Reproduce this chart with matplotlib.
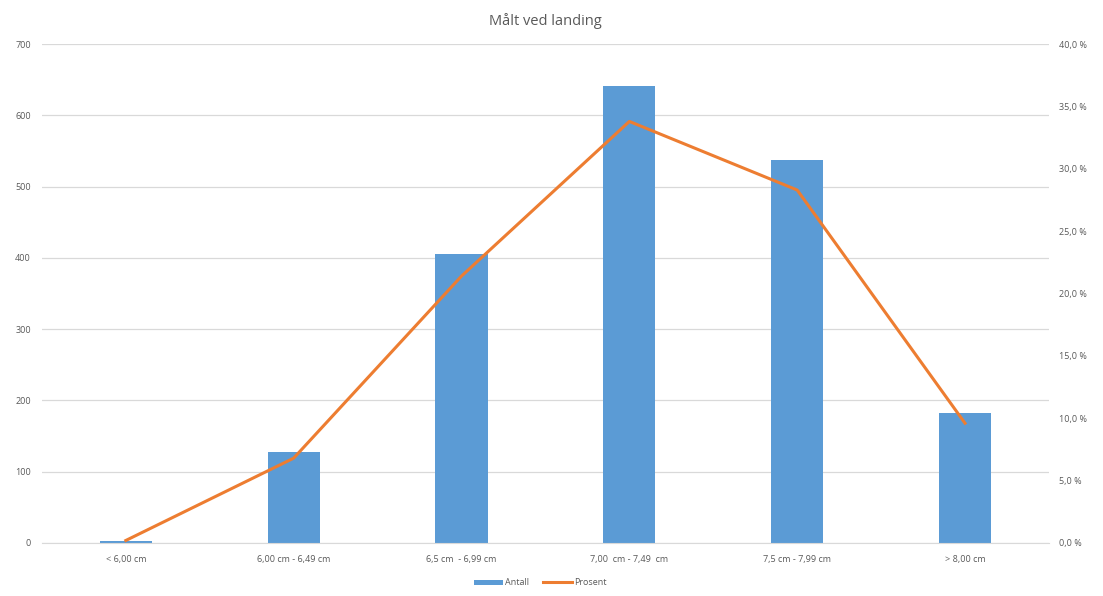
import matplotlib.pyplot as plt
import numpy as np

plt.rcParams['font.family'] = ['Open Sans', 'DejaVu Sans']

kategorier = ['< 6,00 cm', '6,00 cm - 6,49 cm', '6,5 cm  - 6,99 cm',
              '7,00  cm - 7,49  cm', '7,5 cm - 7,99 cm', '> 8,00 cm']
antall = [3, 128, 405, 641, 537, 182]
prosent = [0.2, 6.8, 21.4, 33.8, 28.3, 9.6]

blaa = '#5B9BD5'
oransje = '#ED7D31'
graa = '#595959'

fig = plt.figure(figsize=(11.03, 5.96), dpi=100)
ax = fig.add_axes([0.038, 0.089, 0.913, 0.837])
ax2 = ax.twinx()

x = np.arange(len(kategorier))
ax.bar(x, antall, width=0.31, color=blaa, label='Antall', zorder=2)
ax2.plot(x, prosent, color=oransje, lw=2.2, label='Prosent', zorder=3)

ax.set_xlim(-0.5, len(kategorier) - 0.5)
ax.set_ylim(0, 700)
ax.set_yticks(range(0, 701, 100))
ax2.set_ylim(0, 40)
ax2.set_yticks(np.arange(0, 40.1, 5))
ax2.set_yticklabels([('%.1f %%' % v).replace('.', ',') for v in np.arange(0, 40.1, 5)])

ax.set_xticks(x)
ax.set_xticklabels(kategorier)
ax.grid(axis='y', color='#d9d9d9', lw=0.9, zorder=0)
ax.set_axisbelow(True)

for a in (ax, ax2):
    for s in a.spines.values():
        s.set_visible(False)
    a.tick_params(length=0, colors=graa, labelsize=6.5)
ax.spines['bottom'].set_visible(True)
ax.spines['bottom'].set_color('#d9d9d9')
ax.tick_params(axis='y', pad=8)
ax2.tick_params(axis='y', pad=7)
ax.tick_params(axis='x', pad=9)

ax.set_title('Målt ved landing', fontsize=10.5, color=graa, pad=14)

h1, l1 = ax.get_legend_handles_labels()
h2, l2 = ax2.get_legend_handles_labels()
fig.legend(h1 + h2, l1 + l2, loc='center', bbox_to_anchor=(0.49, 0.022), ncol=2,
           frameon=False, fontsize=6.5, labelcolor=graa, handlelength=3.2,
           handleheight=0.5, columnspacing=1.5, handletextpad=0.3)

fig.savefig('out.png', dpi=100)
